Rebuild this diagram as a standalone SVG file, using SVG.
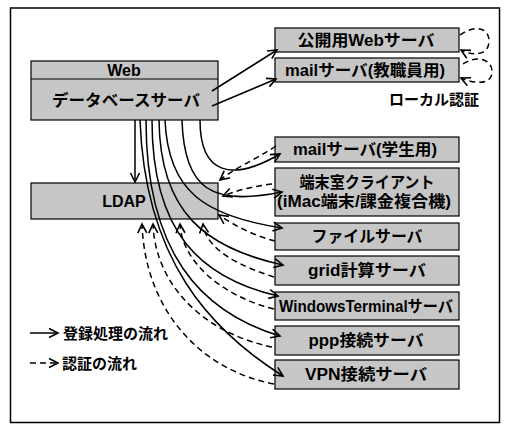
<svg xmlns="http://www.w3.org/2000/svg" width="510" height="431" viewBox="0 0 510 431">
<defs>
<marker id="arr" markerUnits="userSpaceOnUse" markerWidth="12" markerHeight="12" refX="9" refY="4.5" orient="auto" overflow="visible">
<path d="M0,0 L9,4.5 L0,9" fill="none" stroke="#000" stroke-width="1.6" stroke-dasharray="none"/>
</marker>
</defs>
<style>
.box{fill:#c6c6c6;stroke:#000;stroke-width:1.2}
.t{font-family:"Liberation Sans","Noto Sans CJK JP",sans-serif;font-weight:bold;font-size:16px;fill:#000;text-anchor:middle}
.lg{font-family:"Liberation Sans","Noto Sans CJK JP",sans-serif;font-weight:bold;font-size:15px;fill:#000}
.s{fill:none;stroke:#000;stroke-width:1.5;marker-end:url(#arr)}
.d{fill:none;stroke:#000;stroke-width:1.5;stroke-dasharray:6,4;marker-end:url(#arr)}
</style>
<rect x="10.5" y="8" width="489" height="414.5" fill="#fff" stroke="#000" stroke-width="1.5"/>

<g id="db">
<rect class="box" x="31" y="61" width="187" height="59"/>
<line x1="31" y1="79" x2="218" y2="79" stroke="#000" stroke-width="1.2"/>
<text class="t" x="124" y="76">Web</text>
<text class="t" x="126" y="106" textLength="148" lengthAdjust="spacingAndGlyphs">データベースサーバ</text>
</g>
<g id="ldap">
<rect class="box" x="31" y="183" width="187" height="36"/>
<text class="t" x="124" y="207" font-size="17">LDAP</text>
</g>
<g id="web-pub">
<rect class="box" x="275" y="28" width="184" height="24"/>
<text class="t" x="366" y="46" textLength="137" lengthAdjust="spacingAndGlyphs">公開用Webサーバ</text>
</g>
<g id="mail-staff">
<rect class="box" x="275" y="58" width="184" height="24"/>
<text class="t" x="365" y="76" textLength="160" lengthAdjust="spacingAndGlyphs">mailサーバ(教職員用)</text>
</g>
<g id="mail-student">
<rect class="box" x="275" y="137" width="184" height="25"/>
<text class="t" x="365" y="155" textLength="144" lengthAdjust="spacingAndGlyphs">mailサーバ(学生用)</text>
</g>
<g id="terminal">
<rect class="box" x="275" y="168" width="184" height="48"/>
<text class="t" x="367" y="188" textLength="135" lengthAdjust="spacingAndGlyphs">端末室クライアント</text>
<text class="t" x="364" y="207" textLength="174" lengthAdjust="spacingAndGlyphs">(iMac端末/課金複合機)</text>
</g>
<g id="file">
<rect class="box" x="275" y="223" width="184" height="27"/>
<text class="t" x="367" y="242" textLength="111" lengthAdjust="spacingAndGlyphs">ファイルサーバ</text>
</g>
<g id="grid">
<rect class="box" x="275" y="256" width="184" height="29"/>
<text class="t" x="367" y="276" textLength="118" lengthAdjust="spacingAndGlyphs">grid計算サーバ</text>
</g>
<g id="wt">
<rect class="box" x="275" y="292" width="184" height="28"/>
<text class="t" x="366" y="312" font-weight="normal" textLength="174" lengthAdjust="spacingAndGlyphs">WindowsTerminalサーバ</text>
</g>
<g id="ppp">
<rect class="box" x="275" y="326" width="184" height="29"/>
<text class="t" x="366" y="346" textLength="115" lengthAdjust="spacingAndGlyphs">ppp接続サーバ</text>
</g>
<g id="vpn">
<rect class="box" x="275" y="360" width="184" height="29"/>
<text class="t" x="366" y="380" textLength="122" lengthAdjust="spacingAndGlyphs">VPN接続サーバ</text>
</g>

<text class="lg" x="434" y="105" font-size="13" text-anchor="middle">ローカル認証</text>

<g id="connectors">
<path class="s" d="M135,120 L135,182"/>
<path class="s" d="M212,91 L277,50"/>
<path class="s" d="M212,106 L276,79"/>
<path class="d" d="M460,35 C475,24 490,28 489,42 C488,56 472,56 461,50"/>
<path class="d" d="M463,64 C478,54 493,60 492,73 C491,85 474,84 461,78"/>

<path class="s" d="M200,120 C200,175 232,182 280,154"/>
<path class="s" d="M182,120 C184,190 212,206 282,192"/>
<path class="s" d="M165,120 C168,192 205,216 282,228"/>
<path class="s" d="M159,120 C160,212 205,248 283,265"/>
<path class="s" d="M152,120 C152,232 200,278 278,296"/>
<path class="s" d="M146,120 C146,252 200,312 280,336"/>
<path class="s" d="M140,120 C145,260 210,330 283,376"/>

<path class="d" d="M276,146 C255,160 235,168 220,180"/>
<path class="d" d="M272,184 C255,186 238,190 223,196"/>
<path class="d" d="M275,241 C255,236 235,226 219,215"/>
<path class="d" d="M274,277 C240,266 206,250 203,224"/>
<path class="d" d="M274,309 C222,296 182,262 180,224"/>
<path class="d" d="M272,347 C200,332 155,282 153,224"/>
<path class="d" d="M274,384 C200,370 145,310 142,224"/>
</g>

<g id="legend">
<path class="s" d="M30,333 L58,333"/>
<text class="lg" x="63" y="339">登録処理の流れ</text>
<path class="d" d="M30,363 L58,363"/>
<text class="lg" x="62" y="369">認証の流れ</text>
</g>
</svg>
